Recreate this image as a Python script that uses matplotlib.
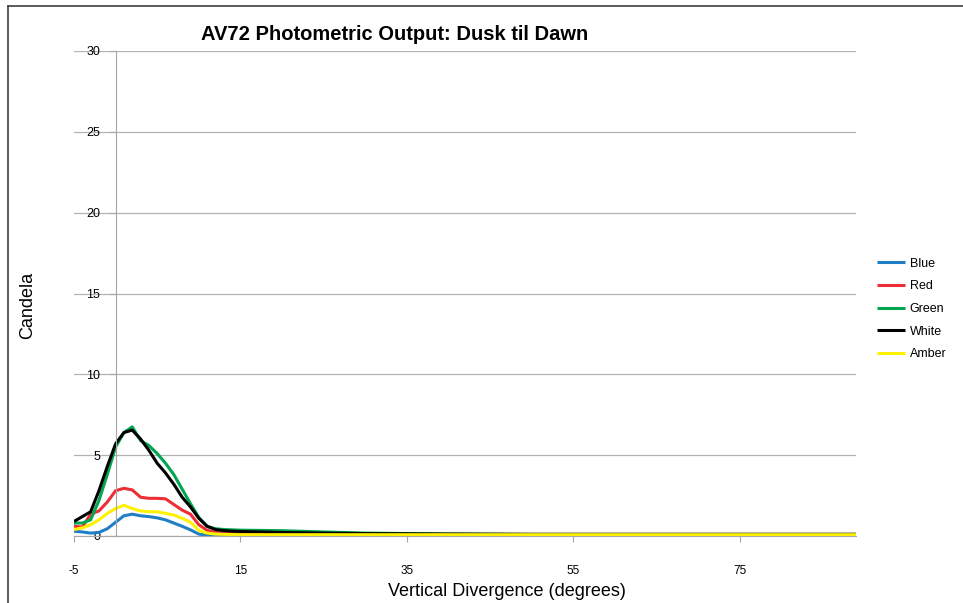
import matplotlib
matplotlib.use("Agg")
import matplotlib.pyplot as plt
from matplotlib.lines import Line2D

# Vertical divergence (degrees)
angles = [-5, -4, -3, -2, -1, 0, 1, 2, 3, 4, 5, 6, 7, 8, 9, 10, 11, 12, 13, 14,
          15, 20, 25, 30, 40, 50, 60, 70, 80, 89]

# Candela per colour
blue = [0.3, 0.25, 0.18, 0.22, 0.45, 0.85, 1.25, 1.35, 1.25, 1.2, 1.12, 1.0, 0.8, 0.6, 0.38, 0.12, 0.05, 0.03, 0.02, 0.02,
        0.02, 0.02, 0.02, 0.02, 0.02, 0.02, 0.02, 0.02, 0.02, 0.02]
red = [0.6, 0.55, 1.35, 1.55, 2.1, 2.8, 2.95, 2.85, 2.4, 2.33, 2.33, 2.3, 1.95, 1.6, 1.35, 0.7, 0.35, 0.22, 0.18, 0.16,
       0.15, 0.12, 0.11, 0.1, 0.1, 0.1, 0.1, 0.1, 0.1, 0.1]
green = [0.8, 0.8, 1.0, 2.2, 3.8, 5.5, 6.4, 6.75, 5.9, 5.6, 5.1, 4.5, 3.8, 2.9, 2.0, 1.15, 0.6, 0.45, 0.4, 0.38,
         0.36, 0.33, 0.25, 0.18, 0.12, 0.1, 0.1, 0.1, 0.1, 0.1]
white = [0.9, 1.2, 1.5, 2.8, 4.3, 5.7, 6.4, 6.55, 6.0, 5.3, 4.5, 3.9, 3.2, 2.4, 1.8, 1.1, 0.6, 0.4, 0.33, 0.3,
         0.28, 0.22, 0.18, 0.15, 0.12, 0.1, 0.1, 0.1, 0.1, 0.1]
amber = [0.4, 0.5, 0.7, 1.0, 1.4, 1.7, 1.9, 1.7, 1.55, 1.5, 1.5, 1.4, 1.3, 1.1, 0.85, 0.35, 0.18, 0.12, 0.1, 0.09,
         0.08, 0.08, 0.08, 0.08, 0.08, 0.08, 0.08, 0.08, 0.08, 0.08]

series = [
    ("Blue", blue, "#1f7ec6"),
    ("Red", red, "#ee2e34"),
    ("Green", green, "#00a650"),
    ("White", white, "#000000"),
    ("Amber", amber, "#fff200"),
]

plt.rcParams["font.family"] = ["Liberation Sans", "DejaVu Sans"]
plt.rcParams["axes.unicode_minus"] = False

fig = plt.figure(figsize=(9.63, 6.03), dpi=100)
ax = fig.add_axes([74 / 963, 1 - 536 / 603, (856 - 74) / 963, (536 - 51) / 603])

for name, vals, color in series:
    ax.plot(angles, vals, color=color, lw=2.2, label=name, solid_capstyle="butt")

ax.set_xlim(-5, 89)
ax.set_ylim(0, 30)
ax.set_xticks([-5, 15, 35, 55, 75])
ax.set_yticks([0, 5, 10, 15, 20, 25, 30])

# excel-style axes: y axis crossing at x = 0
for s in ["top", "right"]:
    ax.spines[s].set_visible(False)
ax.spines["left"].set_position(("data", 0))
ax.spines["left"].set_color("#a6a6a6")
ax.spines["bottom"].set_color("#a6a6a6")
ax.grid(axis="y", color="#b3b3b3", lw=0.9)
ax.set_axisbelow(True)
ax.tick_params(axis="x", direction="out", length=4, color="#a6a6a6", pad=17, labelsize=8.5)
ax.tick_params(axis="y", direction="out", length=4, color="#a6a6a6", pad=7, labelsize=9)

ax.set_title("AV72 Photometric Output: Dusk til Dawn", fontsize=14.5, fontweight="bold",
             x=395 / 782 - 74 / 782, pad=8)
fig.text(28 / 963, 1 - 305 / 603, "Candela", rotation=90, fontsize=13, ha="center", va="center")
fig.text(507 / 963, 1 - 591 / 603, "Vertical Divergence (degrees)", fontsize=13, ha="center", va="center")

ax.legend(loc="center left", bbox_to_anchor=(866 / 963, 1 - 309 / 603), bbox_transform=fig.transFigure,
          frameon=False, fontsize=9, handlelength=2.2, handletextpad=0.4, labelspacing=0.85)

# outer chart frame (left and top edges visible)
fig.add_artist(Line2D([8 / 963, 8 / 963], [0, 1 - 6 / 603], transform=fig.transFigure, color="#404040", lw=1.2))
fig.add_artist(Line2D([8 / 963, 1], [1 - 6 / 603, 1 - 6 / 603], transform=fig.transFigure, color="#404040", lw=1.2))

fig.savefig("out.png", dpi=100)
